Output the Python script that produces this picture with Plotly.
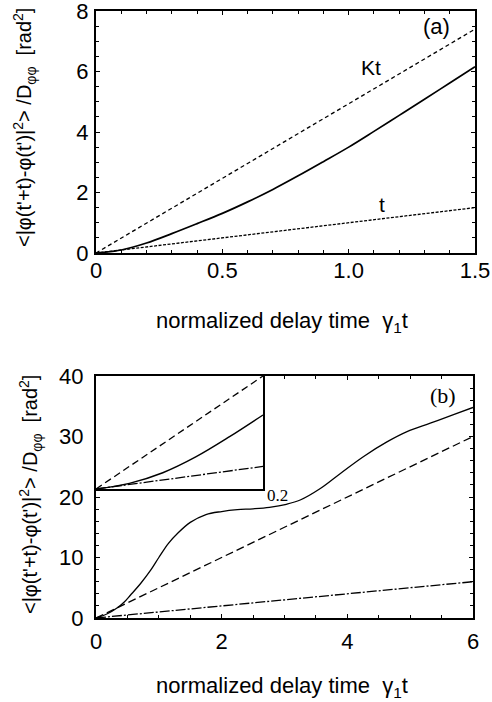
import plotly.graph_objects as go

# panel (a)
t_a = [0, 0.1, 0.2, 0.3, 0.4, 0.5, 0.6, 0.7, 0.8, 0.9, 1.0, 1.1, 1.2, 1.3, 1.4, 1.5]
phase_a = [0, 0.10, 0.33, 0.64, 0.97, 1.31, 1.69, 2.10, 2.55, 3.02, 3.50, 4.02, 4.55, 5.08, 5.62, 6.16]
kt_a_x = [0, 1.5]
kt_a_y = [0, 7.4]
lin_a_x = [0, 1.5]
lin_a_y = [0, 1.5]

# panel (b)
t_b = [0, 0.18, 0.34, 0.45, 0.55, 0.71, 0.87, 1.0, 1.15, 1.3, 1.5, 1.75, 2.0, 2.25, 2.5,
       2.76, 3.03, 3.25, 3.57, 3.89, 4.26, 4.63, 4.95, 5.32, 5.69, 6.0]
phase_b = [0, 0.7, 1.7, 2.65, 3.8, 5.7, 7.9, 10.0, 12.3, 14.0, 15.8, 17.1, 17.6, 17.9, 18.05,
           18.3, 18.8, 19.5, 21.4, 23.9, 26.7, 29.1, 30.8, 32.2, 33.6, 34.8]
kt_b_x = [0, 6]
kt_b_y = [0, 30]
lin_b_x = [0, 6]
lin_b_y = [0, 6]

# inset of (b)
t_in = [0, 0.04, 0.08, 0.12, 0.16, 0.2]
phase_in = [0, 0.05, 0.144, 0.286, 0.463, 0.655]
kt_in_y = [0, 0.2, 0.4, 0.6, 0.8, 1.0]
lin_in_y = [0, 0.04, 0.08, 0.12, 0.16, 0.2]

fig = go.Figure()

# (a)
fig.add_scatter(x=kt_a_x, y=kt_a_y, mode='lines', xaxis='x', yaxis='y',
                line=dict(color='black', width=1.3, dash='4px,3px'))
fig.add_scatter(x=lin_a_x, y=lin_a_y, mode='lines', xaxis='x', yaxis='y',
                line=dict(color='black', width=1.3, dash='3px,1.5px'))
fig.add_scatter(x=t_a, y=phase_a, mode='lines', xaxis='x', yaxis='y', line_shape='spline',
                line=dict(color='black', width=1.7))

# (b)
fig.add_scatter(x=kt_b_x, y=kt_b_y, mode='lines', xaxis='x2', yaxis='y2',
                line=dict(color='black', width=1.3, dash='8px,4px'))
fig.add_scatter(x=lin_b_x, y=lin_b_y, mode='lines', xaxis='x2', yaxis='y2',
                line=dict(color='black', width=1.3, dash='10px,2px,2px,2px'))
fig.add_scatter(x=t_b, y=phase_b, mode='lines', xaxis='x2', yaxis='y2', line_shape='spline',
                line=dict(color='black', width=1.3))

# inset
fig.add_scatter(x=t_in, y=kt_in_y, mode='lines', xaxis='x3', yaxis='y3',
                line=dict(color='black', width=1.3, dash='7px,4px'))
fig.add_scatter(x=t_in, y=lin_in_y, mode='lines', xaxis='x3', yaxis='y3',
                line=dict(color='black', width=1.3, dash='10px,2px,2px,2px'))
fig.add_scatter(x=t_in, y=phase_in, mode='lines', xaxis='x3', yaxis='y3', line_shape='spline',
                line=dict(color='black', width=1.4))

W, H = 492, 702


def px(x):
    return x / W


def py(y):
    return 1 - y / H


tickfont = dict(family='Liberation Sans, Arial', size=22, color='black')
common = dict(showline=True, linecolor='black', linewidth=2, mirror='allticks',
              ticks='inside', ticklen=4, tickcolor='black', showgrid=False,
              zeroline=False, tickfont=tickfont, automargin=False,
              ticklabeloverflow='allow')

fig.update_layout(
    width=W, height=H,
    margin=dict(l=0, r=0, t=0, b=0),
    plot_bgcolor='white', paper_bgcolor='white',
    showlegend=False,
    xaxis=dict(common, domain=[px(96), px(475)], range=[0, 1.5], anchor='y',
               tickvals=[0, 0.5, 1.0, 1.5], ticktext=['0', '0.5', '1.0', '1.5'],
               minor=dict(dtick=0.1, ticks='inside', ticklen=3, tickcolor='black'),
               ticklabelstandoff=-3),
    yaxis=dict(common, domain=[py(253), py(11)], range=[0, 8], anchor='x',
               dtick=2, minor=dict(dtick=0.5, ticks='inside', ticklen=3, tickcolor='black'),
               ticklabelstandoff=1),
    xaxis2=dict(common, domain=[px(96), px(473)], range=[0, 6], anchor='y2',
                dtick=2, minor=dict(dtick=0.5, ticks='inside', ticklen=3, tickcolor='black'),
                ticklabelstandoff=3),
    yaxis2=dict(common, domain=[py(618), py(376)], range=[0, 40], anchor='x2',
                dtick=10, minor=dict(dtick=2, ticks='inside', ticklen=3, tickcolor='black'),
                ticklabelstandoff=6),
    xaxis3=dict(domain=[px(96), px(263)], range=[0, 0.2], anchor='y3',
                showline=True, linecolor='black', linewidth=2, mirror=True,
                showticklabels=False, ticks='', showgrid=False, zeroline=False),
    yaxis3=dict(domain=[py(489), py(376)], range=[0, 1], anchor='x3',
                showline=True, linecolor='black', linewidth=2, mirror=True,
                showticklabels=False, ticks='', showgrid=False, zeroline=False),
)

ytitle = "<|\u03c6(t'+t)-\u03c6(t')|<sup>2</sup>> /D<sub>\u03c6\u03c6</sub>  [rad<sup>2</sup>]"
xtitle = "normalized delay time  \u03b3<sub>1</sub>t"
sans = 'Liberation Sans, Arial'
serif = 'Liberation Serif, Times New Roman'

fig.add_annotation(x=px(282), y=py(322), text=xtitle, font=dict(family=sans, size=22))
fig.add_annotation(x=px(282), y=py(687), text=xtitle, font=dict(family=sans, size=22))
fig.add_annotation(x=px(25), y=py(128), text=ytitle, textangle=-90, font=dict(family=sans, size=20))
fig.add_annotation(x=px(30), y=py(495), text=ytitle, textangle=-90, font=dict(family=sans, size=20))
fig.add_annotation(x=px(436), y=py(27), text='(a)', font=dict(family=sans, size=22))
fig.add_annotation(x=px(443), y=py(395), text='(b)', font=dict(family=serif, size=22))
fig.add_annotation(x=px(277), y=py(495), text='0.2', font=dict(family=serif, size=17))
fig.update_annotations(xref='paper', yref='paper')

fig.add_annotation(xref='x', yref='y', x=1.09, y=6.12, text='Kt', font=dict(family=sans, size=21))
fig.add_annotation(xref='x', yref='y', x=1.13, y=1.6, text='t', font=dict(family=sans, size=21))
fig.update_annotations(showarrow=False, xanchor='center', yanchor='middle', font_color='black')

# drop the page's default body margin so the figure fills the window
fig.write_html("out.html", config={'displayModeBar': False},
               post_script="document.body.style.margin='0';")
